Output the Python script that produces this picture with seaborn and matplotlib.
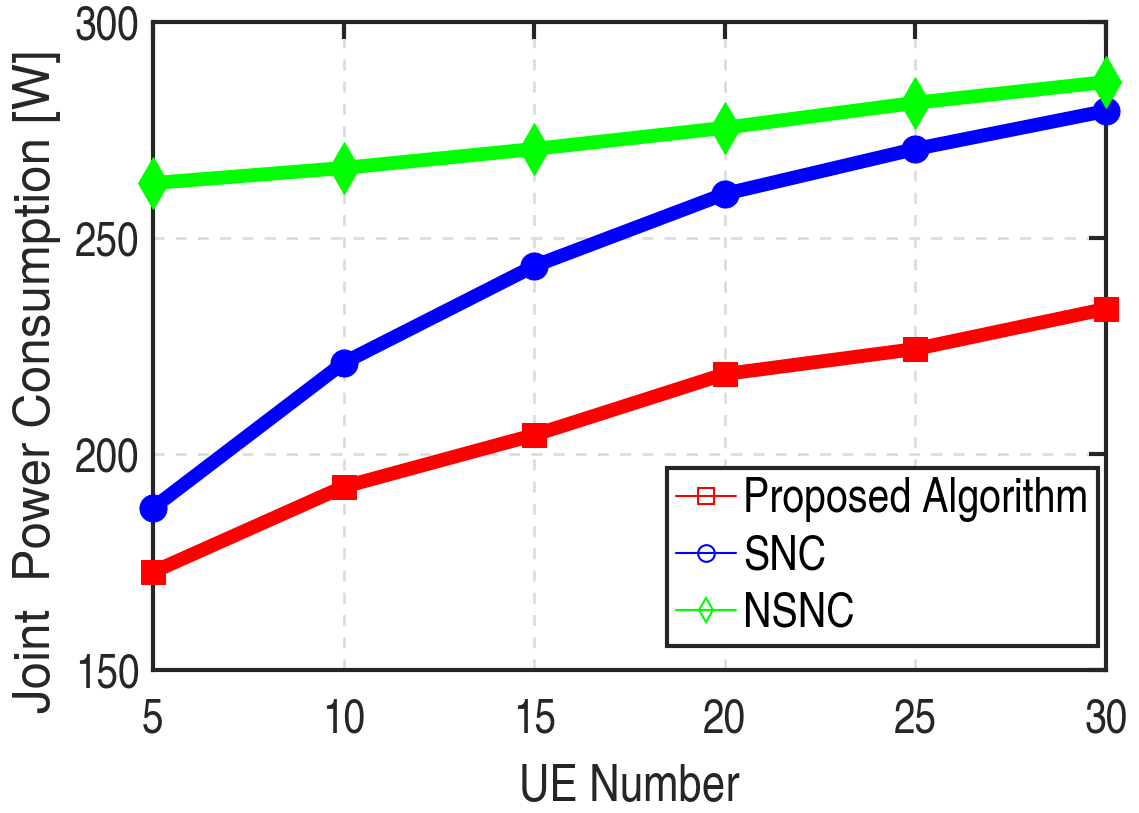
import numpy as np
import pandas as pd
import matplotlib
matplotlib.use("Agg")
import matplotlib.pyplot as plt
import seaborn as sns
from matplotlib.lines import Line2D

ue_number = [5, 10, 15, 20, 25, 30]
proposed = [172.7, 192.4, 204.4, 218.5, 224.3, 233.6]
snc = [187.5, 221.1, 243.5, 260.2, 270.6, 279.4]
nsnc = [262.7, 266.2, 270.6, 275.5, 281.3, 286.1]
series_names = ["Proposed Algorithm", "SNC", "NSNC"]
colors = ["#ff0000", "#0000ff", "#00ff00"]
markers = ["s", "o", "d"]

sns.set_style("white")
plt.rcParams['font.family'] = ['TeX Gyre Heros Cn', 'Liberation Sans', 'DejaVu Sans']

df = pd.DataFrame({
    "UE": ue_number * 3,
    "val": proposed + snc + nsnc,
    "series": sum([[n] * len(ue_number) for n in series_names], []),
})

fig = plt.figure(figsize=(11.39, 8.13), dpi=100)
ax = fig.add_axes([0.1343, 0.1759, 0.8367, 0.7971])

for name, c, m, ms in zip(series_names, colors, markers, [17, 19.5, 26]):
    sub = df[df.series == name]
    sns.lineplot(data=sub, x="UE", y="val", ax=ax, color=c, linewidth=10,
                 marker=m, markersize=ms, markeredgecolor=c, markerfacecolor=c,
                 legend=False, zorder=3, clip_on=False)

ax.set_xlim(5, 30)
ax.set_ylim(150, 300)
ax.set_xticks(ue_number)
ax.set_yticks([150, 200, 250, 300])
ax.grid(True, color="#dddddd", linestyle=(0, (4, 4)), linewidth=2)
ax.set_axisbelow(True)
for s in ax.spines.values():
    s.set_visible(True)
    s.set_color("#262626")
    s.set_linewidth(3)
    s.set_zorder(2.5)
ax.tick_params(direction="in", length=12, width=3, color="#262626",
               labelsize=34, labelcolor="#262626", top=True, right=True, pad=10)
ax.tick_params(axis="x", pad=20)
ax.set_xlabel("UE Number", fontsize=37, color="#262626", labelpad=15)
ax.set_ylabel("Joint  Power Consumption [W]", fontsize=35.5, color="#262626",
              family=["TeX Gyre Heros", "Liberation Sans", "DejaVu Sans"])
ax.yaxis.set_label_coords(-0.097, 0.446)

handles = [Line2D([0], [0], color=c, lw=1.5, marker=m, markersize=12,
                  markerfacecolor="none", markeredgecolor=c, markeredgewidth=1.5)
           for c, m in zip(colors, markers)]
leg = ax.legend(handles, series_names, loc="lower right", fontsize=34.5, frameon=True,
                fancybox=False, edgecolor="#262626", framealpha=1, handlelength=1.25,
                handletextpad=0.15, labelspacing=0.25, borderpad=0.2, borderaxespad=0,
                bbox_to_anchor=(0.9916, 0.037))
leg.get_frame().set_linewidth(3)
for t in leg.get_texts():
    t.set_color("black")

fig.savefig("out.png", dpi=100)
